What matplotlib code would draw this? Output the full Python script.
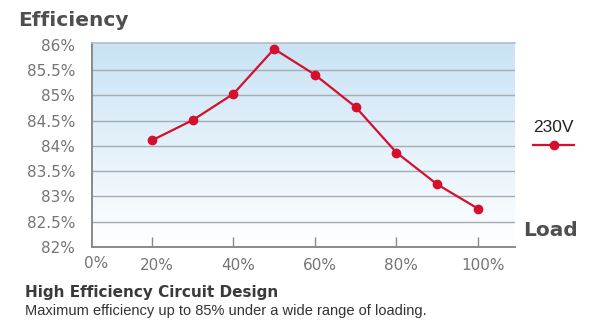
import matplotlib

matplotlib.use("Agg")
import matplotlib.pyplot as plt
import matplotlib.transforms as mtransforms
import numpy as np
from matplotlib.colors import LinearSegmentedColormap

load_pct = [20, 30, 40, 50, 60, 70, 80, 90, 100]
eff_230v = [84.11, 84.51, 85.03, 85.92, 85.41, 84.77, 83.87, 83.24, 82.76]
y_ticks = [82, 82.5, 83, 83.5, 84, 84.5, 85, 85.5, 86]
y_labels = ["82%", "82.5%", "83%", "83.5%", "84%", "84.5%", "85%", "85.5%", "86%"]
x_ticks = [20, 40, 60, 80, 100]
x_labels = ["20%", "40%", "60%", "80%", "100%"]
series_name = "230V"

RED = "#d4102c"
GREY_TXT = "#757575"
DARK_TXT = "#4f4f4f"
TICK_FONT = "DejaVu Sans"

fig = plt.figure(figsize=(6, 3.24), dpi=100)
ax = fig.add_axes([0.1533, 0.2377, 0.705, 0.630])
xlim = (5.3, 109.1)
ylim = (82, 86.04)
ax.set_xlim(*xlim)
ax.set_ylim(*ylim)

# background gradient, light blue at top fading to white
grad = np.linspace(0, 1, 256).reshape(-1, 1)
cmap = LinearSegmentedColormap.from_list("bg", ["#ffffff", "#e4f1fa", "#c8e3f5"])
ax.imshow(grad, extent=(*xlim, *ylim), origin="lower", aspect="auto", cmap=cmap, zorder=0)

for y in y_ticks[1:-1]:
    ax.axhline(y, color="#a3abb3", lw=1.0, zorder=1)

ax.plot(load_pct, eff_230v, color=RED, lw=1.6, marker="o", ms=6, zorder=3)

ax.set_yticks(y_ticks)
ax.set_yticklabels(y_labels)
ax.set_xticks(x_ticks)
ax.set_xticklabels(x_labels)
ax.tick_params(axis="y", length=0, pad=12, labelsize=11, labelcolor=GREY_TXT)
ax.tick_params(axis="x", direction="in", length=7, width=1, color="#8a8a8a",
               pad=8, labelsize=11, labelcolor=GREY_TXT)
off = mtransforms.ScaledTranslation(5 / 100, 0, fig.dpi_scale_trans)
for lab in ax.get_xticklabels():
    lab.set_fontfamily(TICK_FONT)
    lab.set_transform(lab.get_transform() + off)
for lab in ax.get_yticklabels():
    lab.set_fontfamily(TICK_FONT)

# "0%" label sits at the axis origin
fig.text(96 / 600, 1 - 264 / 324, "0%", ha="center", va="center",
         fontsize=11, color=GREY_TXT, family=TICK_FONT)

for side in ("left", "bottom"):
    ax.spines[side].set_color("#8a8a8a")
    ax.spines[side].set_linewidth(1.4)
ax.spines["top"].set_color("#b4bcc4")
ax.spines["top"].set_linewidth(1.2)
ax.spines["right"].set_visible(False)

# legend drawn by hand at the right
fig.text(553 / 600, 1 - 127 / 324, series_name, ha="center", va="center",
         fontsize=12.5, color="#222222", family="Liberation Sans")
leg = fig.add_axes([532 / 600, 1 - 150 / 324, 43 / 600, 10 / 324])
leg.set_xlim(0, 1)
leg.set_ylim(0, 1)
leg.plot([0, 1], [0.5, 0.5], color=RED, lw=1.6)
leg.plot([0.5], [0.5], color=RED, marker="o", ms=6)
leg.axis("off")

fig.text(18 / 600, 1 - 20 / 324, "Efficiency", ha="left", va="center",
         fontsize=14.5, fontweight="bold", color=DARK_TXT, family="DejaVu Sans")
fig.text(523 / 600, 1 - 231 / 324, "Load", ha="left", va="center",
         fontsize=14.5, fontweight="bold", color=DARK_TXT, family="DejaVu Sans")
fig.text(25 / 600, 1 - 292 / 324, "High Efficiency Circuit Design", ha="left", va="center",
         fontsize=11, fontweight="bold", color="#3a3a3a", family="DejaVu Sans")
fig.text(25 / 600, 1 - 311 / 324,
         "Maximum efficiency up to 85% under a wide range of loading.",
         ha="left", va="center", fontsize=10.5, color="#333333", family="Liberation Sans")

fig.savefig("out.png", dpi=100, facecolor="white")
